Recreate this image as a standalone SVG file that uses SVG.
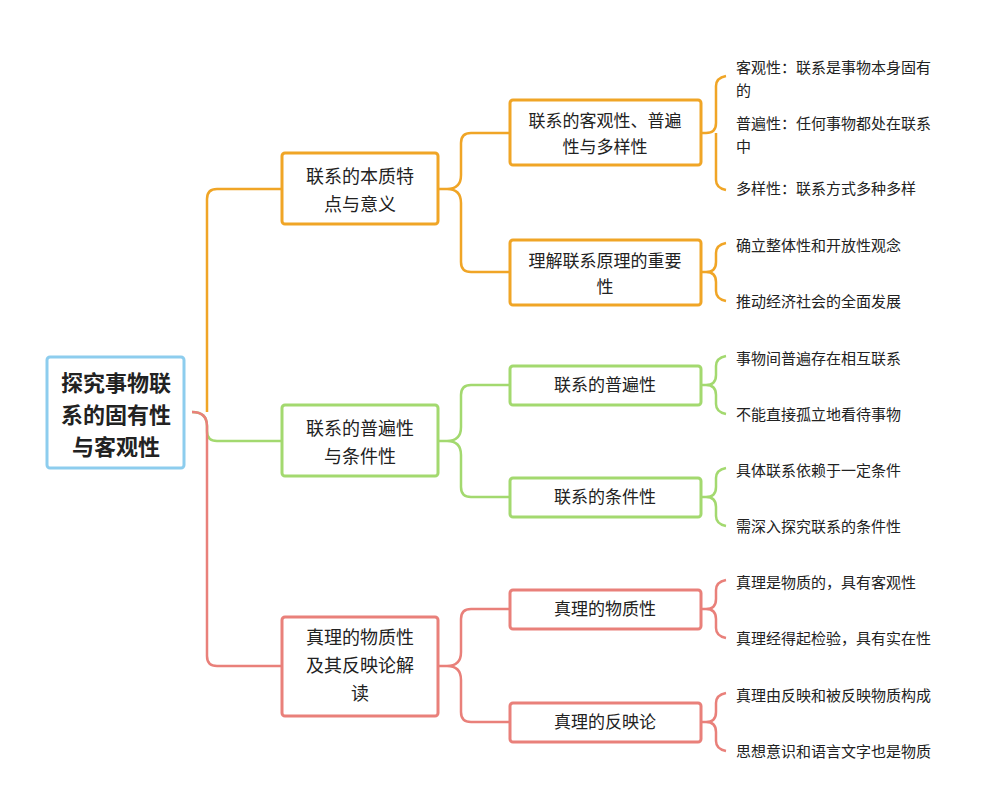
<svg xmlns="http://www.w3.org/2000/svg" width="1000" height="800" viewBox="0 0 1000 800">
<style>
text{font-family:"Noto Sans CJK SC","Noto Sans",sans-serif;fill:#222}
.r{fill:#fff;stroke-width:3}
.t1{font-size:22px;font-weight:bold;text-anchor:middle}
.t2{font-size:18px;text-anchor:middle}
.t3{font-size:17px;text-anchor:middle}
.lf{font-size:15px}
.o{stroke:#F0A526}.g{stroke:#A3D96F}.d{stroke:#E9807A}
path{fill:none;stroke-width:2.5}
</style>
<rect width="1000" height="800" fill="#fff"/>
<g id="connectors">
<path class="o" d="M207,412 V199 Q207,189 217,189 H282"/>
<path class="g" d="M192,412 Q207,412 207,426 V431 Q207,441 217,441 H282"/>
<path class="d" d="M192,412 Q207,412 207,426 V656 Q207,666 217,666 H282"/>
<path class="o" d="M438,189 H447 Q461,189 461,175 V143 Q461,133 471,133 H510 M447,189 Q461,189 461,203 V262 Q461,272 471,272 H510"/>
<path class="g" d="M438,441 H447 Q461,441 461,427 V395 Q461,385 471,385 H510 M447,441 Q461,441 461,455 V487 Q461,497 471,497 H510"/>
<path class="d" d="M438,666 H447 Q461,666 461,652 V619 Q461,609 471,609 H510 M447,666 Q461,666 461,680 V712 Q461,722 471,722 H510"/>
<path class="o" d="M701,133 H706 Q716,133 716,123 V86 Q716,78 726,76 M716,133 V180 Q716,188 726,190"/>
<path class="o" d="M701,272 H706 Q716,272 716,262 V253 Q716,245 726,243 M706,272 Q716,272 716,282 V291 Q716,299 726,301"/>
<path class="g" d="M701,385 H706 Q716,385 716,375 V366 Q716,358 726,356 M706,385 Q716,385 716,395 V404 Q716,412 726,414"/>
<path class="g" d="M701,497 H706 Q716,497 716,487 V478 Q716,470 726,468 M706,497 Q716,497 716,507 V516 Q716,524 726,526"/>
<path class="d" d="M701,609 H706 Q716,609 716,599 V590 Q716,582 726,580 M706,609 Q716,609 716,619 V628 Q716,636 726,638"/>
<path class="d" d="M701,722 H706 Q716,722 716,712 V703 Q716,695 726,693 M706,722 Q716,722 716,732 V741 Q716,749 726,751"/>
</g>
<g id="root"><rect class="r" x="47" y="357" width="137" height="111" rx="3" stroke="#8DCDEE" stroke-width="4"/>
<text class="t1" x="116" y="391">探究事物联</text><text class="t1" x="116" y="423">系的固有性</text><text class="t1" x="116" y="455">与客观性</text></g>
<g id="n1"><rect class="r o" x="282" y="153" width="156" height="71" rx="3"/>
<text class="t2" x="360" y="183">联系的本质特</text><text class="t2" x="360" y="211">点与意义</text></g>
<g id="n2"><rect class="r g" x="282" y="405" width="156" height="71" rx="3"/>
<text class="t2" x="360" y="435">联系的普遍性</text><text class="t2" x="360" y="463">与条件性</text></g>
<g id="n3"><rect class="r d" x="282" y="617" width="156" height="99" rx="3"/>
<text class="t2" x="360" y="644">真理的物质性</text><text class="t2" x="360" y="672">及其反映论解</text><text class="t2" x="360" y="700">读</text></g>
<g id="n1a"><rect class="r o" x="510" y="100" width="191" height="65" rx="3"/>
<text class="t3" x="605" y="127">联系的客观性、普遍</text><text class="t3" x="605" y="153">性与多样性</text></g>
<g id="n1b"><rect class="r o" x="510" y="240" width="191" height="65" rx="3"/>
<text class="t3" x="605" y="267">理解联系原理的重要</text><text class="t3" x="605" y="293">性</text></g>
<g id="n2a"><rect class="r g" x="510" y="366" width="191" height="39" rx="3"/><text class="t3" x="605" y="391">联系的普遍性</text></g>
<g id="n2b"><rect class="r g" x="510" y="478" width="191" height="39" rx="3"/><text class="t3" x="605" y="503">联系的条件性</text></g>
<g id="n3a"><rect class="r d" x="510" y="590" width="191" height="39" rx="3"/><text class="t3" x="605" y="615">真理的物质性</text></g>
<g id="n3b"><rect class="r d" x="510" y="703" width="191" height="39" rx="3"/><text class="t3" x="605" y="728">真理的反映论</text></g>
<g id="leaves" class="lf">
<text x="736" y="73">客观性：联系是事物本身固有</text><text x="736" y="96">的</text>
<text x="736" y="129">普遍性：任何事物都处在联系</text><text x="736" y="152">中</text>
<text x="736" y="194">多样性：联系方式多种多样</text>
<text x="736" y="251">确立整体性和开放性观念</text>
<text x="736" y="307">推动经济社会的全面发展</text>
<text x="736" y="364">事物间普遍存在相互联系</text>
<text x="736" y="420">不能直接孤立地看待事物</text>
<text x="736" y="476">具体联系依赖于一定条件</text>
<text x="736" y="532">需深入探究联系的条件性</text>
<text x="736" y="588">真理是物质的，具有客观性</text>
<text x="736" y="644">真理经得起检验，具有实在性</text>
<text x="736" y="701">真理由反映和被反映物质构成</text>
<text x="736" y="757">思想意识和语言文字也是物质</text>
</g>
</svg>
